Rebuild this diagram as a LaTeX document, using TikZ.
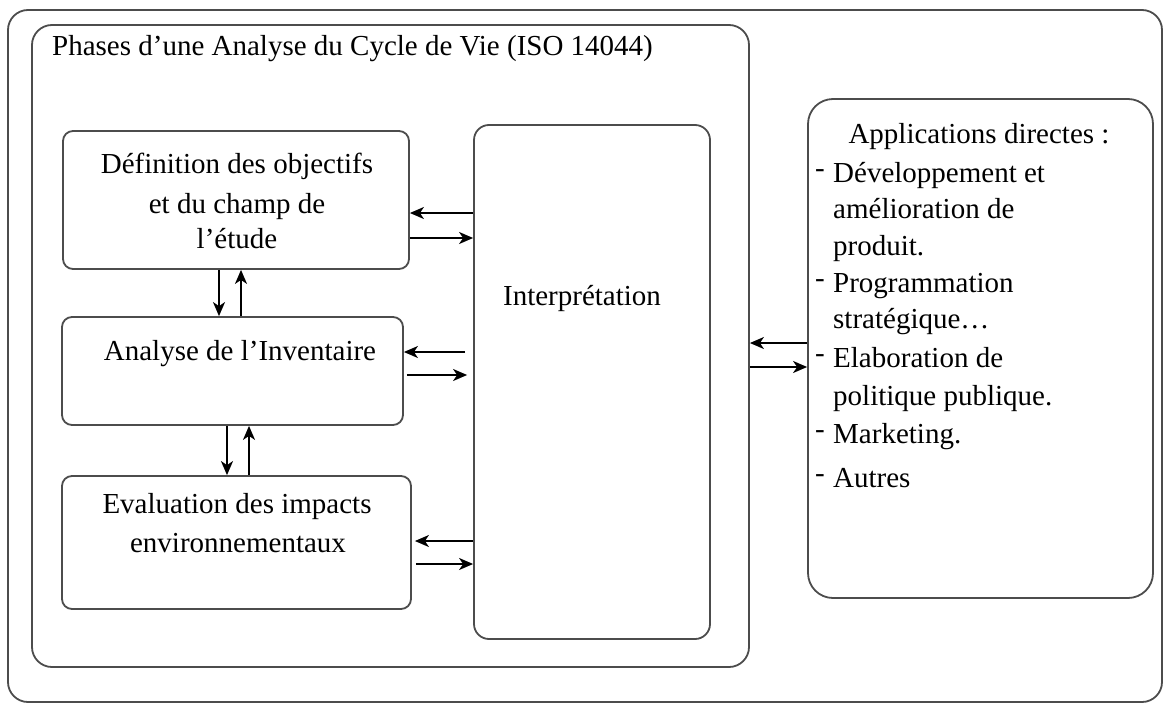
\documentclass[tikz,border=0pt]{standalone}
\usepackage{fontspec}
\setmainfont{Liberation Serif}
\usetikzlibrary{arrows.meta}
\begin{document}
\begin{tikzpicture}[x=1pt,y=-1pt,
  frame/.style={draw=black!70, line width=1.8pt, rounded corners=#1, inner sep=0pt},
  frame/.default=10pt,
  arr/.style={-{Stealth[length=14pt,width=12pt,inset=4pt]}, line width=1.6pt, black},
  lbl/.style={inner sep=0pt, font=\fontsize{29}{37}\selectfont},
]
\useasboundingbox (0,0) rectangle (1169,704);
% containers
\node[frame=20pt, minimum width=1154pt, minimum height=692pt] (outer) at (585,356) {};
\node[frame=20pt, minimum width=717pt, minimum height=642pt] (phases) at (390.5,346) {};
% phase boxes
\node[frame, minimum width=346pt, minimum height=138pt] (def) at (236,200) {};
\node[frame, minimum width=341pt, minimum height=108pt] (ana) at (232.5,371) {};
\node[frame, minimum width=349pt, minimum height=133pt] (eval) at (236.5,542.5) {};
\node[frame=15pt, minimum width=236pt, minimum height=514pt] (interp) at (592,382) {};
\node[frame=25pt, minimum width=345pt, minimum height=499pt] (appl) at (980.5,348.5) {};
% texts
\node[lbl, anchor=base west] (title) at (52,55) {Phases d’une Analyse du Cycle de Vie (ISO 14044)};
\node[lbl, anchor=base] (d1) at (237,173) {Définition des objectifs};
\node[lbl, anchor=base] (d2) at (237,213) {et du champ de};
\node[lbl, anchor=base] (d3) at (237,248) {l’étude};
\node[lbl, anchor=base] (a1) at (240,360) {Analyse de l’Inventaire};
\node[lbl, anchor=base] (e1) at (237,513) {Evaluation des impacts};
\node[lbl, anchor=base] (e2) at (238,552) {environnementaux};
\node[lbl, anchor=base] (i1) at (582,305) {Interprétation};
\node[lbl, anchor=base] (p0) at (979,143) {Applications directes :};
\node[lbl, anchor=base west] (h1) at (815,177) {-};
\node[lbl, anchor=base west] (p1) at (833,182) {Développement et};
\node[lbl, anchor=base west] (p2) at (833,218) {amélioration de};
\node[lbl, anchor=base west] (p3) at (833,255) {produit.};
\node[lbl, anchor=base west] (h2) at (815,287) {-};
\node[lbl, anchor=base west] (p4) at (833,292) {Programmation};
\node[lbl, anchor=base west] (p5) at (833,328) {stratégique…};
\node[lbl, anchor=base west] (h3) at (815,362) {-};
\node[lbl, anchor=base west] (p6) at (833,367) {Elaboration de};
\node[lbl, anchor=base west] (p7) at (833,405) {politique publique.};
\node[lbl, anchor=base west] (h4) at (815,438) {-};
\node[lbl, anchor=base west] (p8) at (833,443) {Marketing.};
\node[lbl, anchor=base west] (h5) at (815,482) {-};
\node[lbl, anchor=base west] (p9) at (833,487) {Autres};
% horizontal arrows
\draw[arr] (interp.west |- 0,213) -- (def.east |- 0,213);
\draw[arr] (def.east |- 0,238) -- (interp.west |- 0,238);
\draw[arr] ([xshift=-8pt]interp.west |- 0,352) -- (ana.east |- 0,352);
\draw[arr] ([xshift=3pt]ana.east |- 0,375) -- ([xshift=-6pt]interp.west |- 0,375);
\draw[arr] (interp.west |- 0,541) -- ([xshift=3pt]eval.east |- 0,541);
\draw[arr] ([xshift=4pt]eval.east |- 0,564) -- (interp.west |- 0,564);
\draw[arr] (appl.west |- 0,343) -- (phases.east |- 0,343);
\draw[arr] (phases.east |- 0,367) -- (appl.west |- 0,367);
% vertical arrows
\draw[arr] (def.south -| 219,0) -- (ana.north -| 219,0);
\draw[arr] (ana.north -| 241,0) -- (def.south -| 241,0);
\draw[arr] (ana.south -| 227,0) -- (eval.north -| 227,0);
\draw[arr] (eval.north -| 249,0) -- (ana.south -| 249,0);
\end{tikzpicture}
\end{document}
